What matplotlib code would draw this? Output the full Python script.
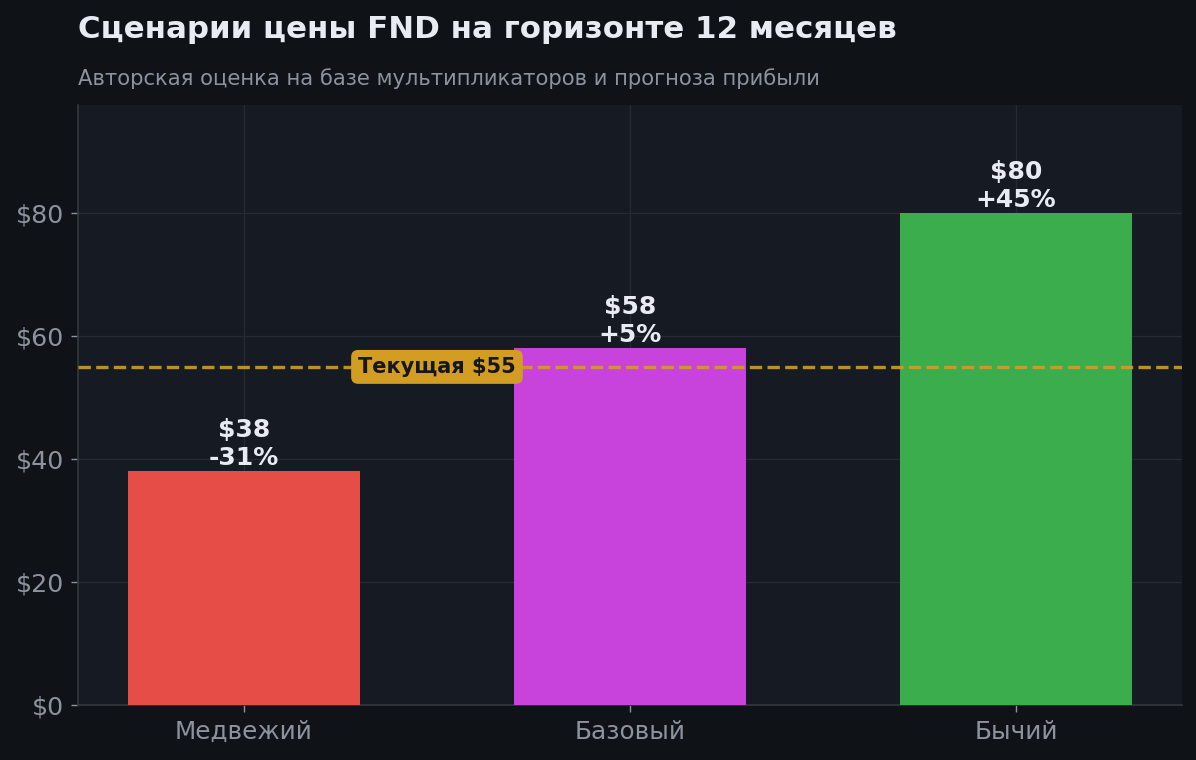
import matplotlib
matplotlib.use('Agg')
import matplotlib.pyplot as plt
from matplotlib.ticker import FuncFormatter

scenarios = ['Медвежий', 'Базовый', 'Бычий']
targets = [38, 58, 80]
changes = ['-31%', '+5%', '+45%']
current_price = 55

bar_colors = ['#E64D46', '#C843DB', '#3BAD4D']
fig_bg = '#0F1317'
ax_bg = '#161A22'
text_light = '#E8ECF2'
text_muted = '#8C939E'
gold = '#D29D22'

plt.rcParams['font.family'] = ['DejaVu Sans']

fig = plt.figure(figsize=(11.96, 7.6), dpi=100, facecolor=fig_bg)
ax = fig.add_axes([0.0652, 0.0724, 0.9231, 0.7894])
ax.set_facecolor(ax_bg)

x = list(range(len(scenarios)))
bars = ax.bar(x, targets, width=0.6, color=bar_colors, zorder=3)

ax.set_ylim(0, max(targets) * 1.22)
ax.yaxis.set_major_formatter(FuncFormatter(lambda v, p: f'${v:.0f}'))
ax.set_yticks([0, 20, 40, 60, 80])
ax.set_xticks(x)
ax.set_xticklabels(scenarios)

ax.grid(True, color='#252A33', linewidth=1, zorder=0)
ax.set_axisbelow(True)
for side in ['top', 'right']:
    ax.spines[side].set_visible(False)
for side in ['left', 'bottom']:
    ax.spines[side].set_color('#33373E')
    ax.spines[side].set_linewidth(1.2)
ax.tick_params(colors=text_muted, labelsize=17.8, length=5, width=1)
ax.tick_params(axis='x', pad=6)
ax.tick_params(axis='y', labelsize=18.3, pad=5)

# current price line
ax.axhline(current_price, color=gold, alpha=0.9, linestyle='--', linewidth=2.4, zorder=4)
ax.text(0.5, current_price, f'Текущая ${current_price}', ha='center', va='center',
        fontsize=15, fontweight='bold', color='#15171C', zorder=5,
        bbox=dict(boxstyle='round,pad=0.3', facecolor=gold, edgecolor=gold))

for b, val, ch in zip(bars, targets, changes):
    ax.annotate(f'${val}\n{ch}', (b.get_x() + b.get_width() / 2, val),
                xytext=(0, 1), textcoords='offset points', ha='center', va='bottom',
                fontsize=18, fontweight='bold', color=text_light, zorder=6)

fig.text(0.0652, 0.95, 'Сценарии цены FND на горизонте 12 месяцев',
         fontsize=22.2, fontweight='bold', color=text_light, va='baseline')
fig.text(0.0652, 0.888, 'Авторская оценка на базе мультипликаторов и прогноза прибыли',
         fontsize=15.2, color=text_muted, va='baseline')

plt.savefig('out.png', dpi=100, facecolor=fig_bg)
